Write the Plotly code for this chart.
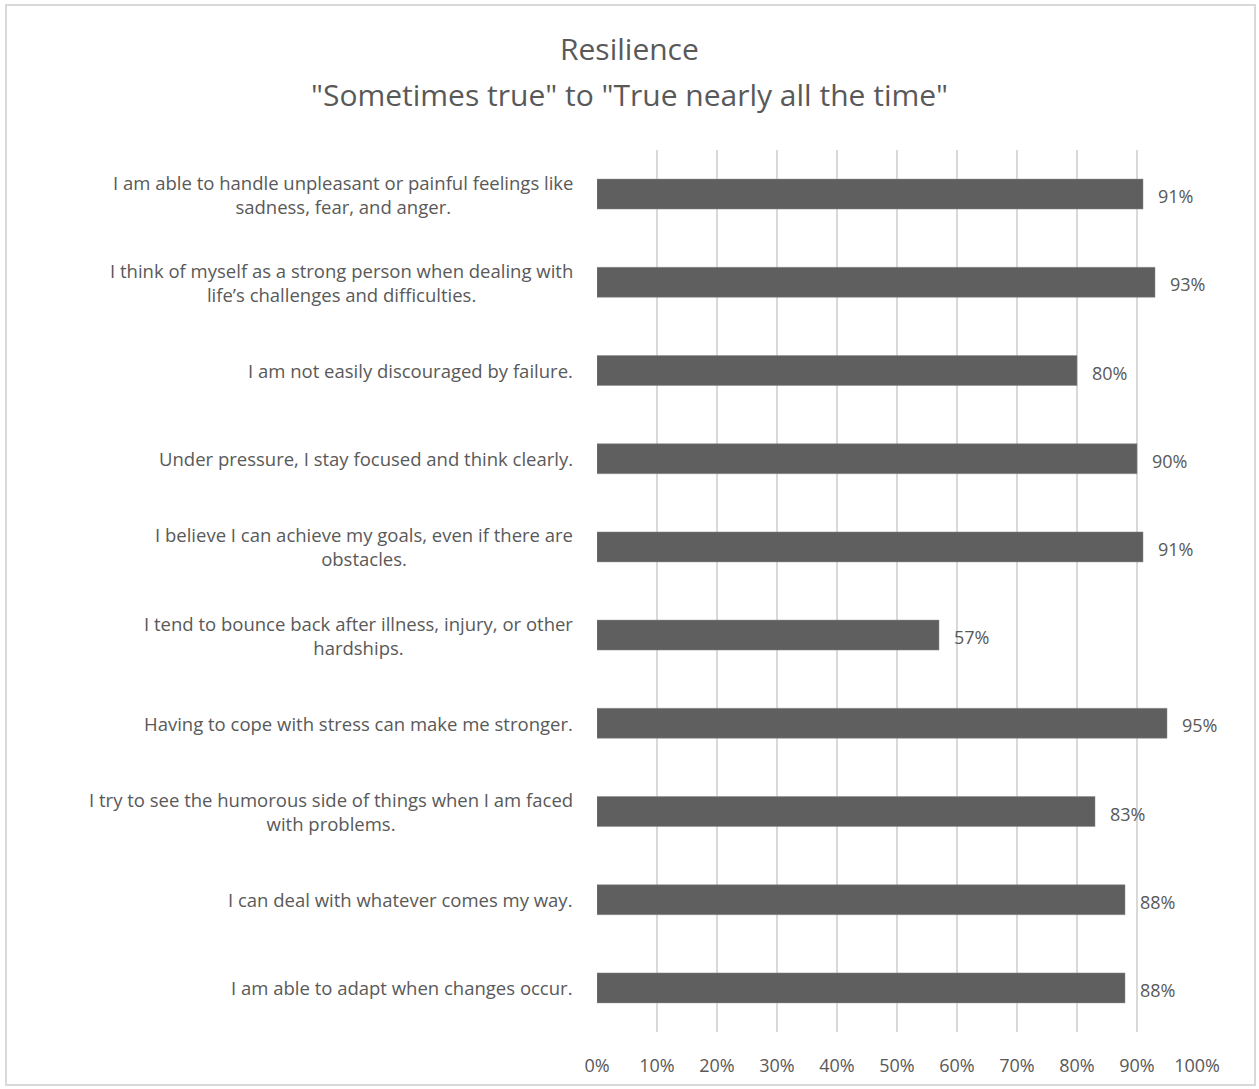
import plotly.graph_objects as go

categories = [
    "I am able to handle unpleasant or painful feelings like<br>sadness, fear, and anger.",
    "I think of myself as a strong person when dealing with<br>life’s challenges and difficulties.",
    "I am not easily discouraged by failure.",
    "Under pressure, I stay focused and think clearly.",
    "I believe I can achieve my goals, even if there are<br>obstacles.",
    "I tend to bounce back after illness, injury, or other<br>hardships.",
    "Having to cope with stress can make me stronger.",
    "I try to see the humorous side of things when I am faced<br>with problems.",
    "I can deal with whatever comes my way.",
    "I am able to adapt when changes occur.",
]
values = [0.91, 0.93, 0.80, 0.90, 0.91, 0.57, 0.95, 0.83, 0.88, 0.88]
tick_vals = [i / 10 for i in range(11)]
tick_text = [f"{i*10}%" for i in range(11)]

title_line1 = "Resilience"
title_line2 = "\"Sometimes true\" to \"True nearly all the time\""

TXT = "#595959"
FONT = "Open Sans"
W, H = 1259, 1089
ML, MR, MT, MB = 597, 62, 150, 57
ph = H - MT - MB
pw = W - ML - MR

fig = go.Figure(go.Bar(
    x=values, y=list(range(len(categories))), orientation="h",
    marker=dict(color="#5f5f5f", line=dict(color="#8a8a8a", width=0.5)),
    width=0.34, hoverinfo="skip",
))

ann = []
for i, (c, v) in enumerate(zip(categories, values)):
    ann.append(dict(x=0, xref="paper", y=i, yref="y",
                    text=c, showarrow=False, align="center",
                    xanchor="right", yanchor="middle", xshift=-22,
                    font=dict(family=FONT, size=18.5, color=TXT)))
    ann.append(dict(x=v, y=i, xref="x", yref="y", text=f"{round(v*100)}%", showarrow=False,
                    xanchor="left", yanchor="middle", xshift=13, yshift=-2,
                    font=dict(family=FONT, size=18, color=TXT)))
ann.append(dict(x=(W / 2 - ML) / pw, xref="paper", y=(H - MB - 95) / ph, yref="paper",
                text=title_line2, showarrow=False, xanchor="center", yanchor="middle",
                font=dict(family=FONT, size=30, color=TXT)))
ann.append(dict(x=(W / 2 - ML) / pw, xref="paper", y=(H - MB - 48) / ph, yref="paper",
                text=title_line1, showarrow=False, xanchor="center", yanchor="middle",
                font=dict(family=FONT, size=30, color=TXT)))

fig.update_layout(
    width=W, height=H,
    margin=dict(l=ML, r=MR, t=MT, b=MB),
    paper_bgcolor="white", plot_bgcolor="white",
    annotations=ann,
    xaxis=dict(range=[0, 1], tickvals=tick_vals, ticktext=tick_text,
               showgrid=True, gridcolor="#d9d9d9", gridwidth=2,
               zeroline=False, showline=False, ticks="",
               ticklabelstandoff=21,
               tickfont=dict(family=FONT, size=18, color=TXT), fixedrange=True),
    yaxis=dict(range=[len(categories) - 0.5, -0.5], showticklabels=False,
               showgrid=False, zeroline=False, showline=False, ticks=""),
    showlegend=False,
    shapes=[dict(type="rect", xref="paper", yref="paper",
                 x0=(6 - ML) / pw, x1=(1255 - ML) / pw,
                 y0=(H - MB - 1085) / ph, y1=(H - MB - 5) / ph,
                 line=dict(color="#d9d9d9", width=2), fillcolor="rgba(0,0,0,0)",
                 layer="below")],
)

fig.write_html("out.html")
